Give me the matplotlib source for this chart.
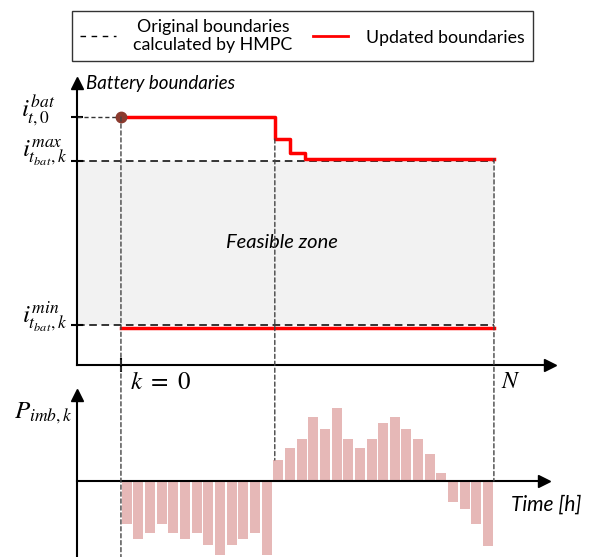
import matplotlib
matplotlib.use("Agg")
import matplotlib.pyplot as plt
from matplotlib.lines import Line2D
from matplotlib.patches import ConnectionPatch

plt.rcParams["font.family"] = ["Lato", "DejaVu Sans"]
plt.rcParams["mathtext.fontset"] = "stix"

# battery current boundaries (top panel)
i_t0 = 62.0
i_max = 51.0
i_min = 10.0
n_steps = 32
upd_x = [0, 13.2, 14.5, 15.75, 32]
upd_max = [62.0, 56.5, 53.0, 51.5, 51.5]
upd_min = 9.2

# imbalance power per step (bottom panel)
p_imb = [-4.3, -5.8, -5.2, -4.3, -5.2, -5.8, -5.2, -6.4, -7.4, -6.4, -5.8, -5.2, -7.4,
         2.1, 3.3, 4.2, 6.4, 5.2, 7.3, 4.2, 3.3, 4.2, 5.8, 6.4, 5.2, 4.2, 2.7, 0.8,
         -2.1, -2.8, -4.3, -6.5]

W, H = 589, 557
fig = plt.figure(figsize=(W / 100, H / 100), dpi=100)

x_left = -3.77
ax1 = fig.add_axes([77 / W, 1 - 365 / H, (550 - 77) / W, (365 - 83) / H])
ax2 = fig.add_axes([77 / W, 0, (544 - 77) / W, (557 - 395) / H])

ax1.set_xlim(x_left, 36.8)
ax1.set_ylim(0, 70.5)
ax2.set_xlim(x_left, 36.3)
ax2.set_ylim(-7.6, 8.6)

for ax in (ax1, ax2):
    ax.spines[["top", "right"]].set_visible(False)
    ax.spines[["left", "bottom"]].set_linewidth(1.5)
    ax.patch.set_visible(False)
ax2.spines["bottom"].set_position(("data", 0))

# arrow heads
ax1.plot(1, 0, ">k", transform=ax1.transAxes, clip_on=False, ms=9)
ax1.plot(0, 1, "^k", transform=ax1.transAxes, clip_on=False, ms=9)
ax2.plot(1, 0, ">k", transform=ax2.get_yaxis_transform(), clip_on=False, ms=9)
ax2.plot(0, 1, "^k", transform=ax2.transAxes, clip_on=False, ms=9)

# feasible zone
ax1.fill_between([x_left, n_steps], i_min, i_max, color="#f2f2f2", lw=0, zorder=0)
ax1.plot([x_left, n_steps], [i_max, i_max], color="k", ls=(0, (5, 3)), lw=1.1)
ax1.plot([x_left, n_steps], [i_min, i_min], color="k", ls=(0, (5, 3)), lw=1.1)
ax1.plot([x_left, 0], [i_t0, i_t0], color="#333333", ls=(0, (3, 2)), lw=1)

# updated boundaries
ax1.step(upd_x, upd_max, where="post", color="#ff0000", lw=2.5, zorder=4)
ax1.plot([0, n_steps], [upd_min, upd_min], color="#ff0000", lw=2.5, zorder=4)
ax1.plot(0, i_t0, "o", color="#8b3a2e", ms=7.5, zorder=5)

ax1.set_xticks([0], labels=[""])
ax1.tick_params(axis="x", direction="inout", length=10, width=1.5)
ax1.set_yticks([i_t0, i_max, i_min], labels=["", "", ""])
ax1.tick_params(axis="y", direction="inout", length=8, width=1.5)
ax2.set_xticks([])
ax2.set_yticks([])

# bars
ks = [k + 0.5 for k in range(len(p_imb))]
ax2.bar(ks, p_imb, width=0.86, color="#e6b8b7", zorder=1)

# vertical guides across both panels
vdash = dict(color="#444444", ls=(0, (3, 2)), lw=1)
for xa, ya, xb, yb in [(0, i_t0, 0, -7.6),
                       (upd_x[1], upd_max[1], upd_x[1], p_imb[13]),
                       (n_steps, upd_max[-1], n_steps, 0)]:
    con = ConnectionPatch(xyA=(xa, ya), coordsA=ax1.transData,
                          xyB=(xb, yb), coordsB=ax2.transData, **vdash)
    con.set_zorder(3)
    fig.add_artist(con)

# labels
ax1.text(0.02, 1.0, "Battery boundaries", transform=ax1.transAxes,
         style="italic", fontsize=13.5, va="center", ha="left")
ax1.text(13.8, 30.5, "Feasible zone", style="italic", fontsize=14.5,
         ha="center", va="center")
ax1.text(-0.045, i_t0 + 1.5, r"$i_{t,0}^{bat}$", transform=ax1.get_yaxis_transform(),
         ha="right", va="center", fontsize=18)
ax1.text(-0.02, i_max + 2.0, r"$i_{t_{bat},k}^{max}$", transform=ax1.get_yaxis_transform(),
         ha="right", va="center", fontsize=18)
ax1.text(-0.02, i_min + 2.0, r"$i_{t_{bat},k}^{min}$", transform=ax1.get_yaxis_transform(),
         ha="right", va="center", fontsize=18)
ax1.text(0.8, -4.2, r"$k\ =\ 0$", ha="left", va="center", fontsize=18)
ax1.text(n_steps + 0.6, -4.2, r"$N$", ha="left", va="center", fontsize=17)
ax2.text(-0.01, 6.8, r"$P_{imb,k}$", transform=ax2.get_yaxis_transform(),
         ha="right", va="center", fontsize=18)
ax2.text(39.5, -2.4, "Time [h]", style="italic", fontsize=15, ha="right", va="center")

# legend
handles = [Line2D([], [], color="k", ls=(0, (4, 4)), lw=1),
           Line2D([], [], color="#ff0000", lw=2)]
leg = fig.legend(handles, ["Original boundaries\ncalculated by HMPC", "Updated boundaries"],
                 loc="center", bbox_to_anchor=(72 / W, 1 - 64 / H, 461 / W, 56 / H),
                 mode="expand", ncol=2, fontsize=12.8, frameon=True, fancybox=False,
                 edgecolor="k", handlelength=2.0, handletextpad=1.0, borderpad=0.45,
                 borderaxespad=0, labelspacing=0.2)
leg.get_frame().set_linewidth(1)
for t in leg.get_texts():
    t.set_multialignment("center")
    t.set_linespacing(1.15)

fig.savefig("out.png", dpi=100)
